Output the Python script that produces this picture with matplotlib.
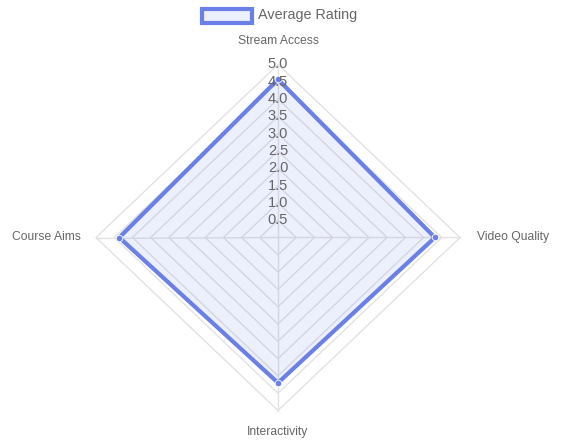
import numpy as np
import matplotlib
matplotlib.use('Agg')
import matplotlib.pyplot as plt
from matplotlib.patches import Rectangle

plt.rcParams['font.family'] = ['Liberation Sans', 'DejaVu Sans']

labels = ['Stream Access', 'Video Quality', 'Interactivity', 'Course Aims']
ratings = [4.57, 4.31, 4.2, 4.36]
ticks = [0.5, 1.0, 1.5, 2.0, 2.5, 3.0, 3.5, 4.0, 4.5, 5.0]
series_name = 'Average Rating'

line_c = '#6a7fe8'
fill_c = (106 / 255, 127 / 255, 232 / 255, 0.12)
grid_c = '#e2e2e2'
text_c = '#666666'

W, H = 564, 441
cx, cy = 278, 237.5      # centre in pixels (from top)
rx, ry = 182, 173        # radius of 5.0 in pixels
rmax = 5.0

fig = plt.figure(figsize=(W / 100, H / 100), dpi=100)
ax = fig.add_axes([0, 0, 1, 1])
ax.set_xlim(-cx * rmax / rx, (W - cx) * rmax / rx)
ax.set_ylim(-(H - cy) * rmax / ry, cy * rmax / ry)
ax.axis('off')

theta = np.arange(len(labels)) * 2 * np.pi / len(labels)
sx, sy = np.sin(theta), np.cos(theta)

# grid rings and spokes
for t in ticks:
	ax.plot(np.append(sx, sx[0]) * t, np.append(sy, sy[0]) * t, color=grid_c, lw=1, zorder=1)
for i in range(len(labels)):
	ax.plot([0, sx[i] * rmax], [0, sy[i] * rmax], color=grid_c, lw=1, zorder=1)

# data
r = np.array(ratings)
px, py = np.append(sx * r, sx[0] * r[0]), np.append(sy * r, sy[0] * r[0])
ax.fill(px, py, color=fill_c, lw=0, zorder=2)
ax.plot(px, py, color=line_c, lw=3, zorder=3, solid_joinstyle='miter')
ax.scatter(sx * r, sy * r, s=22, color=line_c, edgecolor='white', linewidth=0.6, zorder=4)

# tick labels along the top spoke
for t in ticks:
	ax.text(0, t, f'{t:.1f}', ha='center', va='center', fontsize=10.5, color=text_c, zorder=5)

# point labels
offs = [(0, 23), (17, 0), (0, -22), (-15, 0)]
has = ['center', 'left', 'center', 'right']
for i, lab in enumerate(labels):
	ax.annotate(lab, (sx[i] * rmax, sy[i] * rmax), xytext=offs[i], textcoords='offset pixels',
				ha=has[i], va='center', fontsize=8.7, color=text_c)

# legend
fig.patches.append(Rectangle((202 / W, 1 - 23 / H), 50 / W, 14 / H, transform=fig.transFigure,
							 facecolor=fill_c, edgecolor=line_c, lw=3))
fig.text(258 / W, 1 - 15.5 / H, series_name, ha='left', va='center', fontsize=10.4, color=text_c)

fig.savefig('out.png', dpi=100)
